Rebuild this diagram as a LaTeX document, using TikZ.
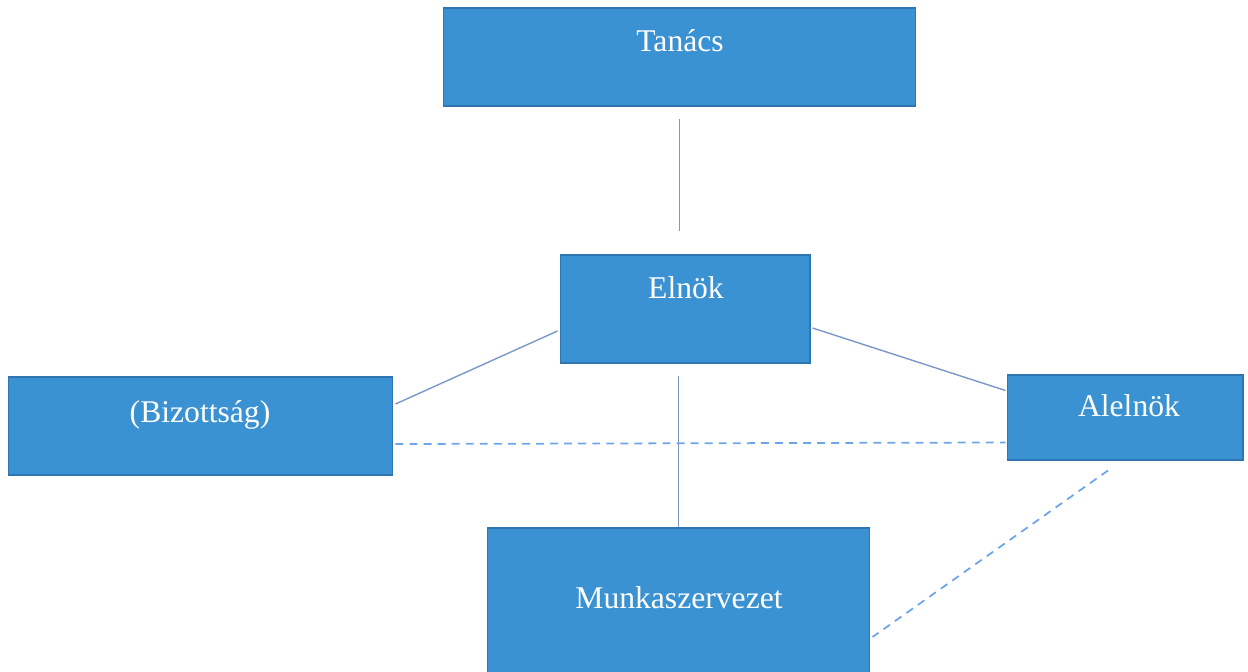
\documentclass[tikz,border=0pt]{standalone}
\usepackage{fontspec}
\setmainfont{Liberation Serif}
\usepackage{tikz}
\usetikzlibrary{calc}
\usetikzlibrary{positioning}

\definecolor{boxblue}{RGB}{58,146,210}
\definecolor{boxedge}{RGB}{46,118,178}
\definecolor{linkblue}{RGB}{122,152,202}
\definecolor{dashblue}{RGB}{108,166,232}

\begin{document}
\begin{tikzpicture}[x=0.02cm, y=-0.02cm,
  box/.style={rectangle, draw=boxedge, fill=boxblue, line width=0.6pt, inner sep=0pt},
  lbl/.style={anchor=base, text=white, inner sep=0pt, font=\fontsize{18}{22}\selectfont},
  link/.style={draw=linkblue, line width=0.8pt},
  dlink/.style={draw=dashblue, line width=1pt, dash pattern=on 4.5pt off 3.5pt}]
\useasboundingbox (0,0) rectangle (1248,672);

% boxes
\node [box, minimum width=9.46cm, minimum height=1.96cm] (tanacs) at (679.5, 57) {};
\node [box, minimum width=5.0cm, minimum height=2.16cm] (elnok) at (685, 309) {};
\node [box, minimum width=7.7cm, minimum height=1.96cm] (biz) at (200.5, 426) {};
\node [box, minimum width=4.72cm, minimum height=1.7cm] (alelnok) at (1125, 417.5) {};
\node [box, minimum width=7.66cm, minimum height=3.0cm] (munka) at (678.5, 603) {};

% texts
\node [lbl] (tanacsT) at (680, 52) {Tanács};
\node [lbl] (elnokT) at (686, 298) {Elnök};
\node [lbl] (bizT) at (200, 422) {(Bizottság)};
\node [lbl] (alelnokT) at (1129, 417) {Alelnök};
\node [lbl] (munkaT) at (679, 608) {Munkaszervezet};

% connectors
\draw [link, shorten <=12*0.02cm, shorten >=23*0.02cm] (tanacs.south) -- (tanacs.south |- elnok.north);
\draw [link, shorten <=12*0.02cm] (munka.north |- elnok.south) -- (munka.north);
\draw [link] ($(elnok.west)+(-2,22)$) -- ($(biz.east)+(2,-22)$);
\draw [link] ($(elnok.east)+(2,19)$) -- ($(alelnok.west)+(-1,-27)$);
\draw [dlink] ($(biz.east)+(2,18)$) -- ($(alelnok.west)+(-1,25)$);
\draw [dlink] ($(alelnok.south)+(-17,10)$) -- ($(munka.east)+(2,34)$);
\end{tikzpicture}
\end{document}
